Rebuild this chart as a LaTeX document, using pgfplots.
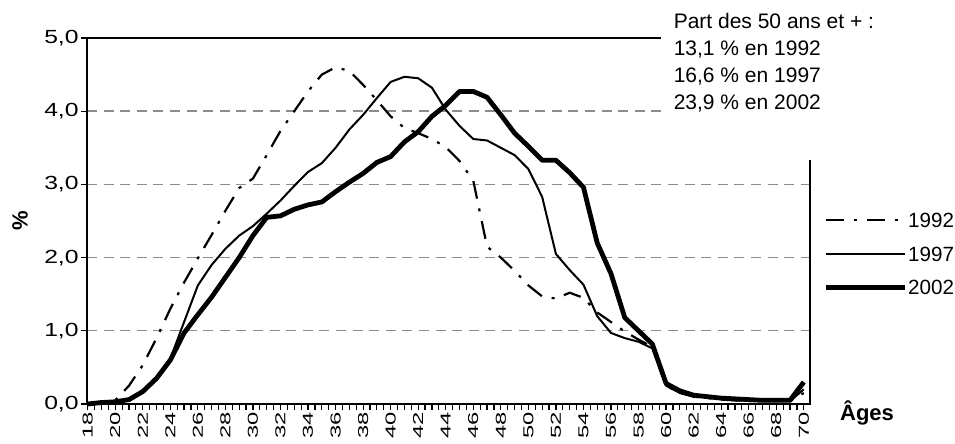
\documentclass[border=0pt]{standalone}
\usepackage{graphicx}
\usepackage{pgfplots}
\pgfplotsset{compat=1.18}
\usepackage{pgfplotstable}
\usepackage{fontspec}
\setmainfont{Liberation Sans}

\pgfplotstableread{
age  a1992 a1997 a2002
18   0.00  0.00  0.00
19   0.01  0.01  0.02
20   0.05  0.02  0.03
21   0.25  0.05  0.06
22   0.53  0.18  0.17
23   0.90  0.36  0.35
24   1.30  0.62  0.60
25   1.66  1.12  0.97
26   1.99  1.62  1.22
27   2.31  1.90  1.46
28   2.64  2.12  1.73
29   2.95  2.30  2.00
30   3.08  2.43  2.30
31   3.40  2.60  2.55
32   3.73  2.78  2.57
33   4.00  2.98  2.66
34   4.27  3.17  2.72
35   4.50  3.29  2.76
36   4.60  3.50  2.90
37   4.55  3.75  3.03
38   4.36  3.95  3.15
39   4.15  4.18  3.30
40   3.93  4.40  3.38
41   3.77  4.47  3.58
42   3.70  4.45  3.72
43   3.62  4.32  3.93
44   3.51  4.02  4.08
45   3.32  3.80  4.27
46   3.05  3.62  4.27
47   2.15  3.60  4.19
48   2.00  3.50  3.95
49   1.82  3.40  3.70
50   1.62  3.21  3.52
51   1.47  2.83  3.33
52   1.44  2.05  3.33
53   1.52  1.83  3.16
54   1.45  1.63  2.96
55   1.25  1.20  2.20
56   1.12  0.97  1.78
57   0.99  0.90  1.18
58   0.88  0.85  1.00
59   0.78  0.76  0.82
60   0.25  0.25  0.28
61   0.15  0.15  0.18
62   0.10  0.11  0.12
63   0.08  0.09  0.10
64   0.06  0.07  0.08
65   0.05  0.05  0.07
66   0.04  0.05  0.06
67   0.04  0.04  0.05
68   0.04  0.04  0.05
69   0.04  0.04  0.05
70   0.15  0.20  0.30
}\data

\begin{document}
\begin{tikzpicture}
\useasboundingbox (-43.5pt,-20pt) rectangle (434pt,202pt);
\begin{axis}[
  scale only axis, width=361.5pt, height=183pt,
  xmin=17.95, xmax=70.45, ymin=0, ymax=5,
  axis line style={line width=1pt},
  xtick={18,20,...,70}, minor x tick num=3,
  ytick={0,1,...,5},
  xtick pos=bottom, ytick pos=left, tick align=outside,
  major tick length=3pt, minor tick length=3pt,
  every tick/.style={black, line width=0.6pt},
  ymajorgrids,
  grid style={black!45, line width=0.7pt, dash pattern=on 5pt off 3.3pt},
  xticklabel={\scalebox{1.65}[1]{\pgfmathprintnumber[assume math mode=true]{\tick}}},
  yticklabel={\scalebox{1.3}[1]{\pgfmathprintnumber[fixed,fixed zerofill,precision=1,use comma,assume math mode=true]{\tick}}},
  x tick label style={rotate=90, anchor=east, font=\fontsize{7.2}{8}\selectfont, inner sep=1pt},
  y tick label style={font=\fontsize{9.5}{10}\selectfont, inner sep=1pt},
  ylabel={\%},
  ylabel style={at={(axis description cs:-0.0927,0.5)}, anchor=center, font=\bfseries\fontsize{11}{12}\selectfont},
  xlabel={Âges},
  xlabel style={at={(axis description cs:1.0789,-0.0246)}, anchor=center, font=\bfseries\fontsize{11}{12}\selectfont},
  legend style={at={(rel axis cs:1.018,0.537)}, anchor=north west, draw=none, fill=none,
    inner sep=0pt, font=\fontsize{10.3}{12}\selectfont, row sep=4.35pt,
    nodes={inner xsep=0.5pt, inner ysep=0pt, text height=9.9pt, text depth=2.5pt},
    cells={anchor=west},
    /tikz/every even column/.append style={column sep=0pt}},
  legend image code/.code={\draw[#1] (0pt,0pt) -- (39.5pt,0pt);},
  clip=false,
]
\addplot[black, line width=1.1pt, line join=round, dash pattern=on 9pt off 5pt on 1.5pt off 5pt] table[x=age, y=a1992] {\data};
\addlegendentry{1992}
\addplot[black, line width=1.0pt, line join=round] table[x=age, y=a1997] {\data};
\addlegendentry{1997}
\addplot[black, line width=2.4pt, line join=round] table[x=age, y=a2002] {\data};
\addlegendentry{2002}
\end{axis}
\fill[white] (287pt,122pt) rectangle (372pt,186pt);
\begin{scope}[every node/.style={anchor=base west, inner sep=0pt, font=\fontsize{10.5}{12}\selectfont}]
\node at (293.2pt,187.5pt) {Part des 50 ans et + :};
\node at (293.2pt,174pt) {13,1 \% en 1992};
\node at (293.2pt,160.5pt) {16,6 \% en 1997};
\node at (293.2pt,147pt) {23,9 \% en 2002};
\end{scope}
\end{tikzpicture}
\end{document}
